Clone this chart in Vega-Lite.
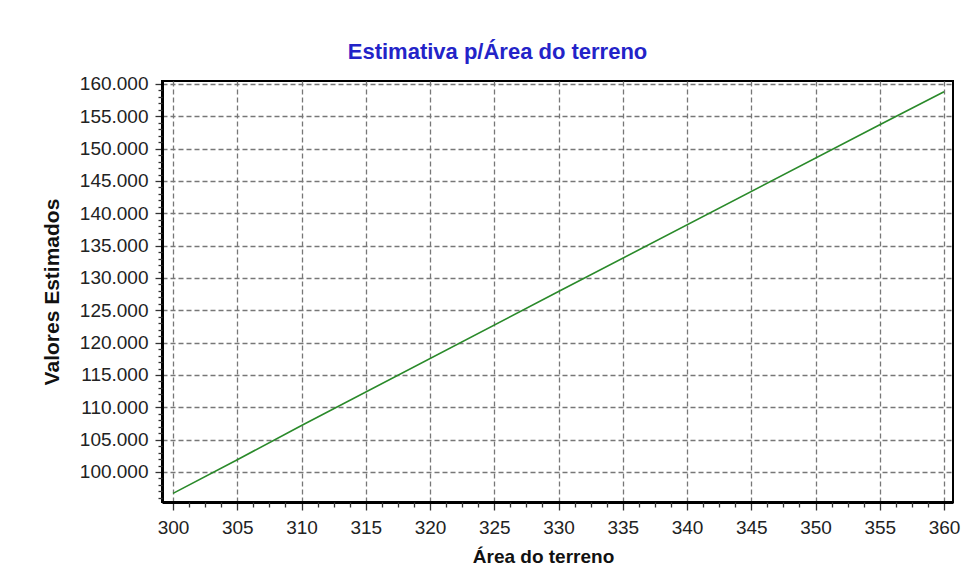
{
  "$schema": "https://vega.github.io/schema/vega-lite/v6.json",
  "autosize": "none",
  "padding": {"left": 162, "top": 81, "right": 17, "bottom": 85},
  "width": 791,
  "height": 421,
  "background": "white",
  "title": {
    "text": "Estimativa p/Área do terreno",
    "font": "Liberation Sans",
    "fontSize": 22,
    "fontWeight": "bold",
    "color": "#2323c8",
    "anchor": "middle",
    "dx": -60,
    "baseline": "alphabetic",
    "offset": -6
  },
  "config": {
    "view": {"stroke": "black", "strokeWidth": 2},
    "axis": {
      "labelFont": "Liberation Sans",
      "labelFontSize": 19,
      "labelColor": "#222222",
      "titleFont": "Liberation Sans",
      "titleFontSize": 19,
      "titleFontWeight": "bold",
      "titleColor": "#111111",
      "gridColor": "#777777",
      "gridDash": [5, 3],
      "gridWidth": 1.3,
      "gridOpacity": 1,
      "tickColor": "#333333",
      "tickWidth": 1.3,
      "domainColor": "black",
      "domainWidth": 3
    }
  },
  "data": {
    "values": [
      {"area": 300, "valor": 96700},
      {"area": 305, "valor": 101900},
      {"area": 310, "valor": 107200},
      {"area": 330, "valor": 127900},
      {"area": 355, "valor": 153700},
      {"area": 360, "valor": 158800}
    ]
  },
  "layer": [
    {
      "mark": {"type": "line", "color": "#2a8a2a", "strokeWidth": 1.6},
      "encoding": {
        "x": {
          "field": "area",
          "type": "quantitative",
          "scale": {"domain": [299.14, 360.7], "nice": false, "zero": false},
          "axis": {
            "orient": "bottom",
            "title": "Área do terreno",
            "values": [300, 305, 310, 315, 320, 325, 330, 335, 340, 345, 350, 355, 360],
            "tickSize": 8,
            "labelPadding": 8,
            "titlePadding": 10,
            "titleX": 381,
            "labelFlush": false,
            "format": "d"
          }
        },
        "y": {
          "field": "valor",
          "type": "quantitative",
          "scale": {"domain": [95360, 160460], "nice": false, "zero": false},
          "axis": {
            "orient": "left",
            "title": "Valores Estimados",
            "titleFontSize": 21,
            "values": [100000, 105000, 110000, 115000, 120000, 125000, 130000, 135000, 140000, 145000, 150000, 155000, 160000],
            "labelExpr": "replace(format(datum.value, ',.0f'), ',', '.')",
            "tickSize": 7,
            "labelPadding": 7,
            "titlePadding": 17,
            "labelFlush": false
          }
        }
      }
    },
    {
      "mark": {"type": "point", "opacity": 0},
      "encoding": {
        "x": {
          "field": "area",
          "type": "quantitative",
          "axis": {
            "orient": "bottom",
            "title": null,
            "labels": false,
            "grid": false,
            "domain": false,
            "tickSize": 5,
            "values": [301.25, 302.5, 303.75, 306.25, 307.5, 308.75, 311.25, 312.5, 313.75, 316.25, 317.5, 318.75, 321.25, 322.5, 323.75, 326.25, 327.5, 328.75, 331.25, 332.5, 333.75, 336.25, 337.5, 338.75, 341.25, 342.5, 343.75, 346.25, 347.5, 348.75, 351.25, 352.5, 353.75, 356.25, 357.5, 358.75]
          }
        },
        "y": {
          "field": "valor",
          "type": "quantitative",
          "axis": {
            "orient": "left",
            "title": null,
            "labels": false,
            "grid": false,
            "domain": false,
            "tickSize": 4,
            "values": [96000, 97000, 98000, 99000, 101000, 102000, 103000, 104000, 106000, 107000, 108000, 109000, 111000, 112000, 113000, 114000, 116000, 117000, 118000, 119000, 121000, 122000, 123000, 124000, 126000, 127000, 128000, 129000, 131000, 132000, 133000, 134000, 136000, 137000, 138000, 139000, 141000, 142000, 143000, 144000, 146000, 147000, 148000, 149000, 151000, 152000, 153000, 154000, 156000, 157000, 158000, 159000]
          }
        }
      }
    }
  ],
  "resolve": {"axis": {"x": "independent", "y": "independent"}}
}
